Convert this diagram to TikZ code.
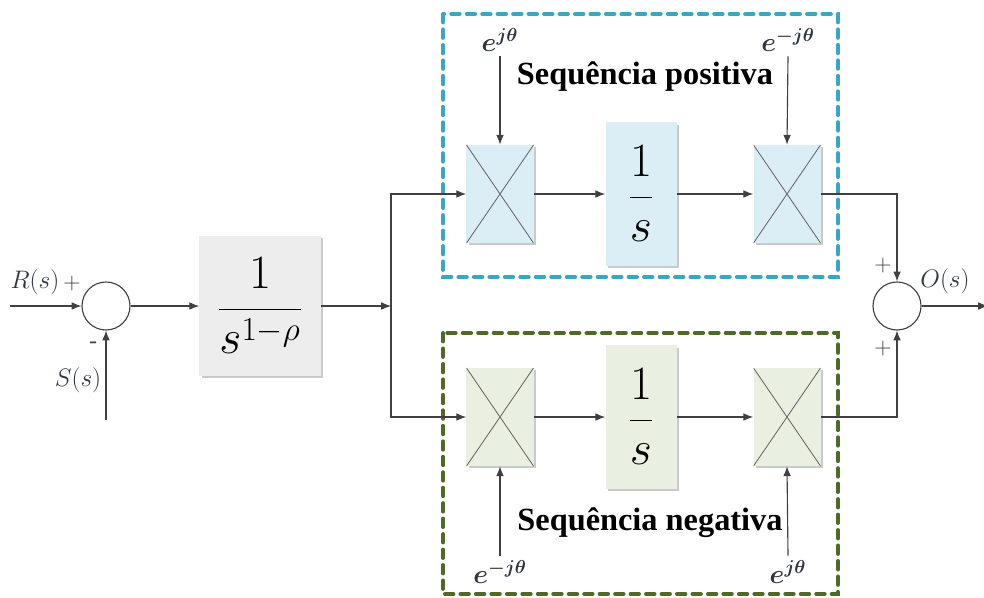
\RequirePackage{fix-cm}
\documentclass[tikz,border=0pt]{standalone}
\usepackage{fontspec}
\setmainfont{Liberation Serif}
\usepackage{amsmath}
\usepackage{bm}
\usetikzlibrary{arrows.meta,shadows}

\definecolor{linegray}{HTML}{404040}
\definecolor{labelink}{HTML}{2E3440}
\definecolor{posblue}{HTML}{3AA6C2}
\definecolor{posfill}{HTML}{DCEEF5}
\definecolor{neggreen}{HTML}{4E6A28}
\definecolor{negfill}{HTML}{EAF0E1}
\definecolor{gainfill}{HTML}{EDEDED}

\tikzset{
  line/.style={draw=linegray, line width=0.8pt},
  arr/.style={line, -{Latex[length=7pt,width=5.5pt]}},
  sumnode/.style={circle, draw=linegray, line width=0.8pt, fill=white,
    minimum size=1.2cm, inner sep=0pt},
  shadowed/.style={drop shadow={shadow xshift=2pt, shadow yshift=-1.5pt,
    opacity=0.35, fill=black!60}},
  mult/.style={shadowed, minimum width=1.675cm, minimum height=2.45cm,
    inner sep=0pt,
    path picture={\draw[linegray!80, line width=0.6pt]
      (path picture bounding box.north west) -- (path picture bounding box.south east)
      (path picture bounding box.north east) -- (path picture bounding box.south west);}},
  integ/.style={shadowed, minimum width=1.775cm, minimum height=3.575cm,
    inner sep=0pt, font=\fontsize{34}{40}\selectfont},
  gainbox/.style={shadowed, fill=gainfill, minimum width=3.025cm,
    minimum height=3.5cm, inner sep=0pt, font=\fontsize{34}{40}\selectfont},
  seqbox/.style={line width=2.8pt, dash pattern=on 6pt off 5pt, line cap=round},
  siglabel/.style={font=\fontsize{18}{22}\selectfont, text=labelink},
  expo/.style={font=\fontsize{19}{22}\selectfont, text=labelink},
  sign/.style={font=\fontsize{17}{20}\selectfont, text=linegray},
  seqtitle/.style={font=\fontsize{23}{27}\selectfont\bfseries}
}

\begin{document}
\begin{tikzpicture}[x=0.025cm, y=-0.025cm]
  \useasboundingbox (0,0) rectangle (984,597);

  % sequence frames
  \draw[seqbox, posblue] (443,14) rectangle (838,277);
  \draw[seqbox, neggreen] (443,333) rectangle (838,594);

  % input summing junction
  \node[sumnode] (sum1) at (106,306) {};
  \coordinate (in) at (10,306);
  \coordinate (fb) at (106,420);
  \draw[arr] (in) -- (sum1.west);
  \draw[arr] (fb) -- (sum1.south);
  \node[siglabel] (r) at (35,282) {$R(s)$};
  \node[sign] (rplus) at (72,284) {$+$};
  \node[siglabel] (s) at (78,380) {$S(s)$};
  \node[sign] (sminus) at (93,345) {-};

  % fractional gain
  \node[gainbox] (gain) at (260,306) {$\displaystyle\frac{1}{s^{1-\rho}}$};
  \draw[arr] (sum1.east) -- (gain.west);
  \coordinate (split) at (391,306);
  \draw[arr] (gain.east) -- (split);

  % positive sequence
  \node[mult, fill=posfill] (mulA1) at (500,194) {};
  \node[integ, fill=posfill] (intA) at (641,194) {$\displaystyle\frac{1}{s}$};
  \node[mult, fill=posfill] (mulA2) at (787,194) {};
  \node[expo] (expA1) at (500,40) {$\bm{e^{j\theta}}$};
  \node[expo] (expA2) at (788,40) {$\bm{e^{-j\theta}}$};
  \node[seqtitle] (titleA) at (645,77) {Sequência positiva};
  \draw[arr] (split) |- (mulA1.west);
  \draw[arr] (mulA1.east) -- (intA.west);
  \draw[arr] (intA.east) -- (mulA2.west);
  \draw[arr] (expA1.south) -- (mulA1.north);
  \draw[arr] (expA2.south) -- (mulA2.north);

  % negative sequence
  \node[mult, fill=negfill] (mulB1) at (500,417) {};
  \node[integ, fill=negfill] (intB) at (641,417) {$\displaystyle\frac{1}{s}$};
  \node[mult, fill=negfill] (mulB2) at (787,417) {};
  \node[expo] (expB1) at (500,572) {$\bm{e^{-j\theta}}$};
  \node[expo] (expB2) at (788,572) {$\bm{e^{j\theta}}$};
  \node[seqtitle] (titleB) at (650,523) {Sequência negativa};
  \draw[arr] (split) |- (mulB1.west);
  \draw[arr] (mulB1.east) -- (intB.west);
  \draw[arr] (intB.east) -- (mulB2.west);
  \draw[arr] (expB1.north) -- (mulB1.south);
  \draw[arr] (expB2.north) -- (mulB2.south);

  % output summing junction
  \node[sumnode] (sum2) at (897,306) {};
  \draw[arr] (mulA2.east) -| (sum2.north);
  \draw[arr] (mulB2.east) -| (sum2.south);
  \coordinate (out) at (988,306);
  \draw[arr] (sum2.east) -- (out);
  \node[sign] (oplus1) at (883,266) {$+$};
  \node[sign] (oplus2) at (883,349) {$+$};
  \node[siglabel] (o) at (945,281) {$O(s)$};
\end{tikzpicture}
\end{document}
